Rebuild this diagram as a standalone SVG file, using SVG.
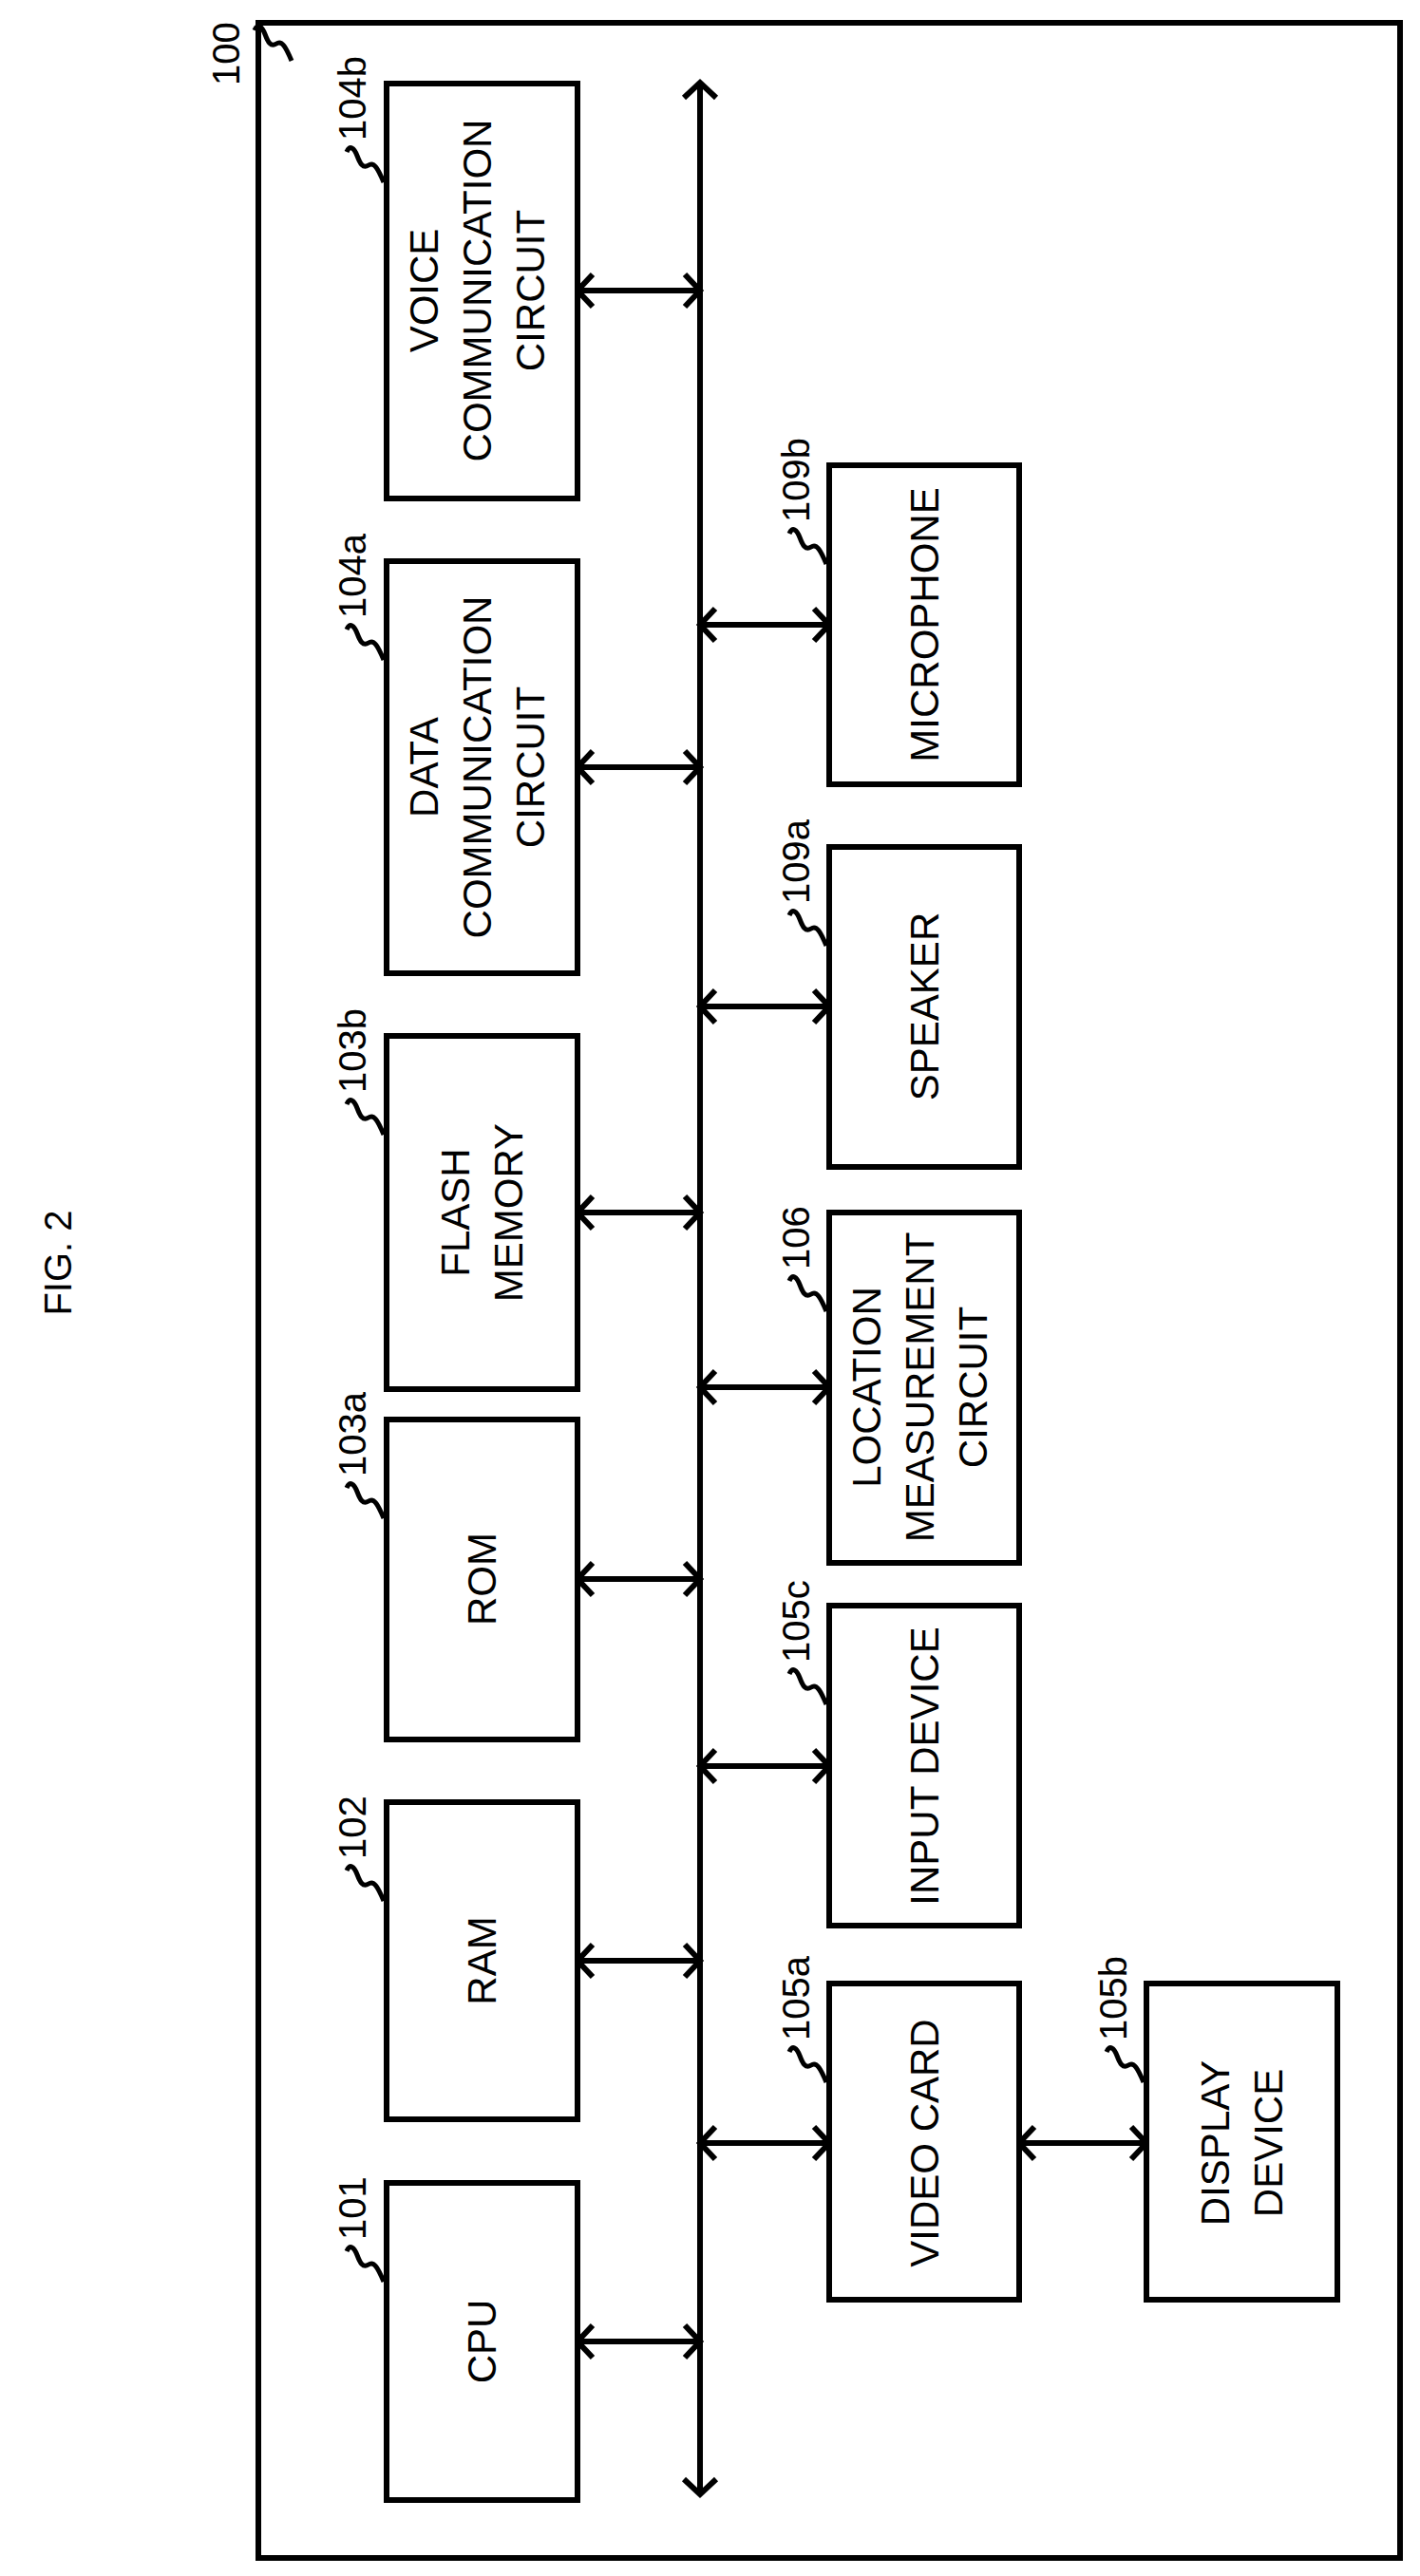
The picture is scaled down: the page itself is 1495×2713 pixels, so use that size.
<svg xmlns="http://www.w3.org/2000/svg" width="1495" height="2713" viewBox="0 0 1495 2713">
<style>
.b{fill:#fff;stroke:#000;stroke-width:6}
.t{font-family:"Liberation Sans",Arial,sans-serif;font-size:42px;text-anchor:middle;fill:#000}
.r{font-family:"Liberation Sans",Arial,sans-serif;font-size:40px;fill:#000}
.s{fill:none;stroke:#000;stroke-width:5}
.c{fill:none;stroke:#000;stroke-width:6}
</style>
<defs>
<marker id="a" markerUnits="userSpaceOnUse" markerWidth="40" markerHeight="40" viewBox="-20 -20 40 40" refX="0" refY="0" orient="auto-start-reverse" overflow="visible">
<path d="M-16,-17 L0,0 L-16,17" fill="none" stroke="#000" stroke-width="6"/>
</marker>
<path id="sq" d="M-42,72 c3,-8 8,-4 11,4 c3,8 6,14 12,10 c6,-4 10,4 16,18" class="s"/>
</defs>
<rect width="1495" height="2713" fill="#fff"/>
<text class="r" transform="translate(75,1330) rotate(-90)" text-anchor="middle">FIG. 2</text>
<g id="n100">
<rect x="272" y="24" width="1202" height="2670" class="b"/>
<use href="#sq" x="310" y="-40"/>
<text class="r" transform="translate(252,90) rotate(-90)">100</text>
</g>
<g id="connectors" class="c">
<line x1="737" y1="87" x2="737" y2="2627" marker-start="url(#a)" marker-end="url(#a)"/>
<line x1="608" y1="306" x2="737" y2="306" marker-start="url(#a)" marker-end="url(#a)"/>
<line x1="608" y1="808" x2="737" y2="808" marker-start="url(#a)" marker-end="url(#a)"/>
<line x1="608" y1="1277" x2="737" y2="1277" marker-start="url(#a)" marker-end="url(#a)"/>
<line x1="608" y1="1663" x2="737" y2="1663" marker-start="url(#a)" marker-end="url(#a)"/>
<line x1="608" y1="2065" x2="737" y2="2065" marker-start="url(#a)" marker-end="url(#a)"/>
<line x1="608" y1="2466" x2="737" y2="2466" marker-start="url(#a)" marker-end="url(#a)"/>
<line x1="737" y1="658" x2="873" y2="658" marker-start="url(#a)" marker-end="url(#a)"/>
<line x1="737" y1="1060" x2="873" y2="1060" marker-start="url(#a)" marker-end="url(#a)"/>
<line x1="737" y1="1461" x2="873" y2="1461" marker-start="url(#a)" marker-end="url(#a)"/>
<line x1="737" y1="1860" x2="873" y2="1860" marker-start="url(#a)" marker-end="url(#a)"/>
<line x1="737" y1="2257" x2="873" y2="2257" marker-start="url(#a)" marker-end="url(#a)"/>
<line x1="1073" y1="2257" x2="1207" y2="2257" marker-start="url(#a)" marker-end="url(#a)"/>
</g>
<g id="n104b">
<rect x="407" y="88" width="201" height="437" class="b"/>
<use href="#sq" x="407" y="88"/>
<text class="r" transform="translate(385,148) rotate(-90)">104b</text>
<text class="t" transform="translate(507,306) rotate(-90)"><tspan x="0" y="-46">VOICE</tspan><tspan x="0" y="10">COMMUNICATION</tspan><tspan x="0" y="66">CIRCUIT</tspan></text>
</g>
<g id="n104a">
<rect x="407" y="591" width="201" height="434" class="b"/>
<use href="#sq" x="407" y="591"/>
<text class="r" transform="translate(385,651) rotate(-90)">104a</text>
<text class="t" transform="translate(507,808) rotate(-90)"><tspan x="0" y="-46">DATA</tspan><tspan x="0" y="10">COMMUNICATION</tspan><tspan x="0" y="66">CIRCUIT</tspan></text>
</g>
<g id="n103b">
<rect x="407" y="1091" width="201" height="372" class="b"/>
<use href="#sq" x="407" y="1091"/>
<text class="r" transform="translate(385,1151) rotate(-90)">103b</text>
<text class="t" transform="translate(507,1277) rotate(-90)"><tspan x="0" y="-13">FLASH</tspan><tspan x="0" y="43">MEMORY</tspan></text>
</g>
<g id="n103a">
<rect x="407" y="1495" width="201" height="337" class="b"/>
<use href="#sq" x="407" y="1495"/>
<text class="r" transform="translate(385,1555) rotate(-90)">103a</text>
<text class="t" transform="translate(507,1663) rotate(-90)"><tspan x="0" y="15">ROM</tspan></text>
</g>
<g id="n102">
<rect x="407" y="1898" width="201" height="334" class="b"/>
<use href="#sq" x="407" y="1898"/>
<text class="r" transform="translate(385,1958) rotate(-90)">102</text>
<text class="t" transform="translate(507,2065) rotate(-90)"><tspan x="0" y="15">RAM</tspan></text>
</g>
<g id="n101">
<rect x="407" y="2299" width="201" height="334" class="b"/>
<use href="#sq" x="407" y="2299"/>
<text class="r" transform="translate(385,2359) rotate(-90)">101</text>
<text class="t" transform="translate(507,2466) rotate(-90)"><tspan x="0" y="15">CPU</tspan></text>
</g>
<g id="n109b">
<rect x="873" y="490" width="200" height="336" class="b"/>
<use href="#sq" x="873" y="490"/>
<text class="r" transform="translate(852,550) rotate(-90)">109b</text>
<text class="t" transform="translate(973,658) rotate(-90)"><tspan x="0" y="15">MICROPHONE</tspan></text>
</g>
<g id="n109a">
<rect x="873" y="892" width="200" height="337" class="b"/>
<use href="#sq" x="873" y="892"/>
<text class="r" transform="translate(852,952) rotate(-90)">109a</text>
<text class="t" transform="translate(973,1060) rotate(-90)"><tspan x="0" y="15">SPEAKER</tspan></text>
</g>
<g id="n106">
<rect x="873" y="1277" width="200" height="369" class="b"/>
<use href="#sq" x="873" y="1277"/>
<text class="r" transform="translate(852,1337) rotate(-90)">106</text>
<text class="t" transform="translate(973,1461) rotate(-90)"><tspan x="0" y="-46">LOCATION</tspan><tspan x="0" y="10">MEASUREMENT</tspan><tspan x="0" y="66">CIRCUIT</tspan></text>
</g>
<g id="n105c">
<rect x="873" y="1691" width="200" height="337" class="b"/>
<use href="#sq" x="873" y="1691"/>
<text class="r" transform="translate(852,1751) rotate(-90)">105c</text>
<text class="t" transform="translate(973,1860) rotate(-90)"><tspan x="0" y="15">INPUT DEVICE</tspan></text>
</g>
<g id="n105a">
<rect x="873" y="2089" width="200" height="333" class="b"/>
<use href="#sq" x="873" y="2089"/>
<text class="r" transform="translate(852,2149) rotate(-90)">105a</text>
<text class="t" transform="translate(973,2257) rotate(-90)"><tspan x="0" y="15">VIDEO CARD</tspan></text>
</g>
<g id="n105b">
<rect x="1207" y="2089" width="201" height="333" class="b"/>
<use href="#sq" x="1207" y="2089"/>
<text class="r" transform="translate(1186,2149) rotate(-90)">105b</text>
<text class="t" transform="translate(1307,2257) rotate(-90)"><tspan x="0" y="-13">DISPLAY</tspan><tspan x="0" y="43">DEVICE</tspan></text>
</g>
</svg>
